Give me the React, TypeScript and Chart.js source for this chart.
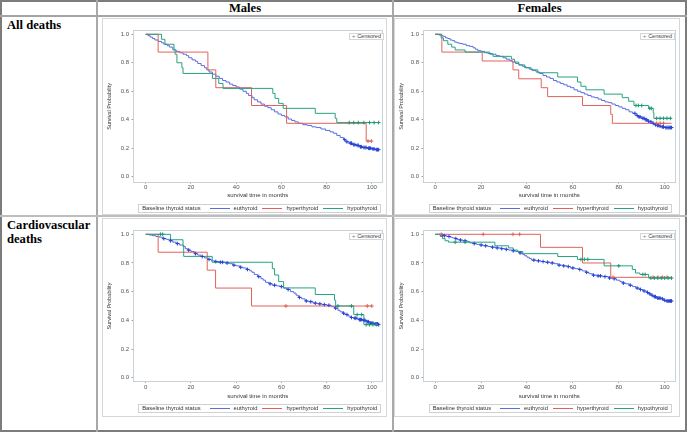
import React, { useEffect, useRef } from "react";
import { Chart, registerables } from "chart.js";

Chart.register(...registerables);

type P = [number, number];

const colHeaders = ["Males", "Females"];
const rowHeaders = ["All deaths", "Cardiovascular deaths"];
const groups = ["euthyroid", "hyperthyroid", "hypothyroid"];
const legendTitle = "Baseline thyroid status";
const censoredLabel = "Censored";
const xAxisTitle = "survival time in months";
const yAxisTitle = "Survival Probability";
const xTickValues = [0, 20, 40, 60, 80, 100];
const yTickValues = [0, 0.2, 0.4, 0.6, 0.8, 1.0];

// ---------- Males, all deaths ----------
const maleAllEu: P[] = [[0,1],[1,0.99],[2,0.98],[3,0.97],[4,0.96],[5.5,0.95],[7,0.94],[8,0.93],[9.5,0.92],[10.5,0.91],[12,0.89],[13.5,0.88],[15,0.87],[16.5,0.86],[18,0.85],[19,0.835],[20.5,0.82],[22,0.81],[23,0.795],[24.5,0.78],[26,0.765],[27,0.75],[28,0.735],[29.5,0.72],[31,0.705],[32.5,0.69],[34,0.675],[35.5,0.665],[37,0.65],[38.5,0.64],[40,0.63],[41.5,0.615],[43,0.6],[44.5,0.585],[45.5,0.57],[47,0.555],[48,0.54],[49.5,0.525],[51,0.51],[52.5,0.495],[54,0.485],[55.5,0.47],[57,0.455],[58.5,0.44],[60,0.43],[61.5,0.42],[63,0.405],[64.5,0.395],[66,0.385],[67.5,0.375],[69.5,0.365],[71.5,0.36],[73.5,0.35],[75.5,0.345],[77.5,0.335],[79.5,0.325],[81.5,0.315],[83,0.305],[84.5,0.29],[86,0.275],[87.5,0.26],[88.5,0.245],[90,0.235],[91.5,0.225],[93,0.22],[94.5,0.21],[96,0.205],[98,0.2],[100,0.195],[101.5,0.19],[103,0.19]];
const maleAllEuCens: P[] = [[88,0.26],[89,0.245],[90.5,0.235],[91,0.235],[92,0.225],[92.5,0.225],[93.5,0.22],[94,0.22],[95,0.21],[95.5,0.21],[96.5,0.205],[97,0.205],[97.5,0.205],[98.5,0.2],[99,0.2],[99.5,0.2],[100.5,0.195],[101,0.195],[102,0.19],[102.5,0.19],[103,0.19]];
const maleAllHyper: P[] = [[0,1],[5.5,0.875],[27.5,0.75],[31,0.625],[46.8,0.5],[62.3,0.375],[97.5,0.25],[99.8,0.25]];
const maleAllHyperCens: P[] = [[98.3,0.25],[99.8,0.25]];
const maleAllHypo: P[] = [[0,1],[7,0.965],[8.5,0.93],[12.5,0.895],[13,0.86],[13.8,0.8],[16,0.765],[16.5,0.725],[29.5,0.69],[32.3,0.655],[34.2,0.62],[56.2,0.585],[57.2,0.55],[58.8,0.515],[60.8,0.48],[75,0.445],[83.8,0.41],[84.5,0.38],[103,0.38]];
const maleAllHypoCens: P[] = [[90,0.38],[92,0.38],[94,0.38],[96.5,0.38],[99,0.38],[101,0.38],[103,0.38]];

// ---------- Females, all deaths ----------
const femAllEu: P[] = [[0,1],[1.5,0.995],[2.5,0.99],[3.5,0.985],[4.5,0.975],[5.5,0.97],[6.5,0.96],[7.5,0.955],[8.5,0.945],[9.5,0.94],[10.5,0.935],[12,0.93],[13.5,0.92],[15,0.915],[16.5,0.905],[17.5,0.895],[18.5,0.885],[20,0.88],[21.5,0.87],[23,0.865],[25,0.86],[26.5,0.85],[28,0.845],[29.5,0.835],[31,0.825],[32.5,0.815],[33.5,0.805],[35,0.795],[36.5,0.785],[38,0.775],[39.5,0.765],[41,0.755],[42.5,0.745],[44,0.735],[45.5,0.725],[47,0.71],[48.5,0.7],[50,0.69],[51.5,0.675],[53,0.665],[54.5,0.655],[56,0.645],[57.5,0.635],[59,0.625],[60.5,0.61],[62,0.6],[63.5,0.59],[65,0.58],[66.5,0.57],[68,0.56],[69.5,0.555],[71,0.545],[72.5,0.535],[74,0.525],[75.5,0.52],[77,0.51],[78.5,0.5],[80,0.49],[81.5,0.48],[83,0.47],[84.5,0.455],[86,0.445],[87.5,0.43],[88.5,0.42],[90,0.41],[91.5,0.4],[92.5,0.39],[93.5,0.385],[94.5,0.375],[95.5,0.365],[96.5,0.36],[97.5,0.355],[98.5,0.35],[100,0.345],[103,0.345]];
const femAllEuCens: P[] = [[87,0.445],[88,0.43],[88.8,0.42],[89.3,0.42],[90.5,0.41],[91,0.41],[91.8,0.4],[92.2,0.4],[93,0.39],[94,0.385],[95,0.375],[96,0.365],[96.8,0.36],[97.2,0.36],[98,0.355],[99,0.35],[99.5,0.35],[100.5,0.345],[101,0.345],[101.5,0.345],[102,0.345],[102.5,0.345],[103,0.345]];
const femAllHyper: P[] = [[0,1],[2.9,0.875],[20.5,0.8125],[33.9,0.75],[36.4,0.6875],[46.2,0.625],[49,0.5625],[64.2,0.5],[76.5,0.4375],[77.2,0.375],[103,0.375]];
const femAllHyperCens: P[] = [[96.5,0.375],[98,0.375],[99.5,0.375]];
const femAllHypo: P[] = [[0,1],[2.6,0.975],[3.6,0.955],[5.5,0.93],[7.2,0.91],[8.7,0.89],[13,0.875],[23.8,0.86],[25.2,0.845],[33.2,0.825],[34.6,0.805],[36.4,0.785],[39,0.765],[41.8,0.75],[44.7,0.73],[53.4,0.7],[62,0.665],[63.5,0.635],[65.7,0.61],[73.6,0.58],[81.5,0.555],[84.3,0.53],[86.6,0.5],[93,0.48],[95,0.45],[95.3,0.41],[103,0.41]];
const femAllHypoCens: P[] = [[87.5,0.5],[88.5,0.5],[90,0.5],[93.5,0.48],[94.2,0.48],[96.5,0.41],[98,0.41],[99.5,0.41],[101,0.41],[102.5,0.41]];

// ---------- Males, cardiovascular deaths ----------
const maleCvEu: P[] = [[0,1],[1.5,0.995],[3,0.99],[4.5,0.985],[6,0.98],[7.5,0.97],[9,0.965],[10.5,0.955],[12,0.945],[13.5,0.935],[15,0.925],[16.5,0.915],[17.5,0.9],[18.5,0.89],[20,0.88],[21.5,0.865],[23,0.855],[24.5,0.845],[26,0.835],[27.5,0.825],[29,0.815],[30.5,0.81],[32.5,0.805],[35,0.8],[37,0.795],[38.5,0.785],[40,0.78],[41.5,0.77],[43,0.765],[44.5,0.755],[46,0.745],[47,0.735],[48,0.72],[49.5,0.705],[51,0.69],[52,0.68],[53,0.665],[54.5,0.655],[56,0.645],[58,0.64],[59.5,0.635],[61,0.625],[62.5,0.615],[64,0.6],[65.5,0.59],[66.5,0.575],[67.5,0.56],[69,0.55],[70.5,0.535],[72,0.53],[74,0.52],[76,0.515],[78,0.51],[80,0.505],[82,0.495],[83.5,0.485],[85,0.47],[86,0.46],[87,0.45],[88,0.44],[89.5,0.43],[90.5,0.42],[92,0.415],[94,0.405],[96,0.4],[97.5,0.39],[99,0.38],[101,0.375],[103,0.37]];
const maleCvEuCens: P[] = [[8,0.97],[11,0.955],[14,0.935],[19,0.89],[22,0.865],[25,0.845],[28,0.825],[31,0.81],[33,0.805],[34,0.805],[36,0.8],[39,0.785],[42,0.77],[45,0.755],[50,0.705],[55,0.655],[57,0.645],[60,0.635],[63,0.615],[68,0.56],[71,0.535],[73,0.53],[75,0.52],[77,0.515],[79,0.51],[81,0.505],[84,0.485],[87.5,0.45],[89,0.44],[91,0.42],[92.5,0.415],[93,0.415],[94.5,0.405],[95,0.405],[95.5,0.405],[96.5,0.4],[97,0.4],[98,0.39],[98.5,0.39],[99.5,0.38],[100,0.38],[100.5,0.38],[101.5,0.375],[102,0.375],[102.5,0.375],[103,0.37]];
const maleCvHyper: P[] = [[0,1],[5.5,0.875],[27.2,0.75],[30.9,0.625],[46.8,0.5],[100,0.5]];
const maleCvHyperCens: P[] = [[62,0.5],[98,0.5],[100,0.5]];
const maleCvHypo: P[] = [[0,1],[11,0.962],[16.5,0.923],[16.8,0.846],[29.4,0.805],[56,0.76],[57,0.716],[58.8,0.67],[61,0.626],[75,0.58],[83.5,0.54],[84,0.5],[92,0.44],[96.5,0.37],[103,0.37]];
const maleCvHypoCens: P[] = [[6.5,1],[7.5,1],[85,0.5],[91,0.5],[93.5,0.44],[95.5,0.44],[97.5,0.37],[99,0.37],[100.5,0.37],[102,0.37]];

// ---------- Females, cardiovascular deaths ----------
const femCvEu: P[] = [[0,1],[2,0.995],[3.5,0.99],[5,0.985],[6.5,0.98],[7.5,0.975],[8.5,0.97],[9.5,0.965],[10.5,0.96],[12,0.955],[14,0.95],[15,0.94],[16.5,0.935],[18,0.93],[19.5,0.925],[21,0.92],[23,0.915],[24.5,0.91],[26.5,0.905],[28.5,0.9],[30.5,0.895],[32,0.89],[33.5,0.885],[35,0.88],[36.5,0.87],[38,0.86],[39,0.85],[40,0.84],[41,0.83],[42,0.82],[44,0.815],[46,0.81],[48,0.805],[50,0.8],[52,0.795],[53.5,0.785],[55.5,0.78],[57.5,0.775],[59,0.765],[61,0.76],[62.5,0.755],[64,0.745],[65.5,0.735],[67,0.725],[68.5,0.715],[70.5,0.71],[73,0.705],[75.5,0.695],[77.5,0.69],[79,0.68],[80.5,0.67],[81.5,0.66],[83,0.655],[84.5,0.645],[86,0.635],[87.5,0.625],[89,0.615],[90.5,0.605],[92,0.595],[93,0.585],[94,0.575],[95,0.565],[96.5,0.555],[98.5,0.55],[99.5,0.54],[100.5,0.535],[103,0.535]];
const femCvEuCens: P[] = [[3,0.995],[4,0.99],[6,0.985],[9,0.97],[11,0.96],[13,0.955],[17,0.935],[20,0.925],[22,0.92],[25,0.91],[27,0.905],[29,0.9],[31,0.895],[34,0.885],[37,0.87],[43,0.82],[45,0.815],[47,0.81],[49,0.805],[51,0.8],[54,0.785],[56,0.78],[58,0.775],[60,0.765],[63,0.755],[66,0.735],[69,0.715],[71,0.71],[72,0.71],[74,0.705],[76,0.695],[78,0.69],[82,0.66],[85,0.645],[88,0.625],[89.5,0.615],[91,0.605],[92.5,0.595],[93.5,0.585],[94.5,0.575],[95.5,0.565],[96,0.565],[97,0.555],[97.5,0.555],[98,0.555],[99,0.55],[100,0.54],[101,0.535],[101.5,0.535],[102,0.535],[102.5,0.535],[103,0.535]];
const femCvHyper: P[] = [[0,1],[45.9,0.909],[64.2,0.8],[76.5,0.7],[103,0.7]];
const femCvHyperCens: P[] = [[2.6,1],[20.9,1],[33.9,1],[36.8,1],[77.5,0.7],[95,0.7],[97,0.7],[99,0.7],[101,0.7]];
const femCvHypo: P[] = [[0,1],[2.2,0.985],[3.2,0.97],[4.3,0.955],[5.8,0.945],[26,0.92],[32,0.905],[34,0.89],[36,0.88],[38.2,0.865],[53.4,0.845],[62,0.825],[73.6,0.78],[85.9,0.755],[87.3,0.73],[89.2,0.72],[93,0.695],[103,0.695]];
const femCvHypoCens: P[] = [[8.7,0.945],[13,0.945],[63.5,0.825],[65,0.825],[66.5,0.825],[80,0.78],[90.5,0.72],[91.5,0.72],[94,0.695],[95.5,0.695],[97,0.695],[98.5,0.695],[100,0.695],[101.5,0.695],[103,0.695]];

const SANS = "'Liberation Sans', Arial, Helvetica, sans-serif";
const SERIF = "'Liberation Serif', 'Times New Roman', Times, serif";
const lineColors = ["#5a6ddc", "#e2625b", "#25a383"];
const censColors = ["#2743d4", "#e2625b", "#1c9878"];

type Series = { curves: P[][]; cens: P[][] };
type PanelCfg = {
  fx: number; fy: number; fw: number; fh: number;
  pl: number; pt: number; pr: number; pb: number;
  yMin: number; yMax: number; xMin: number; xMax: number; xH: number; legTop: number;
  series: Series;
};

const panels: PanelCfg[] = [
  { fx: 102, fy: 18, fw: 285, fh: 197, pl: 133.5, pt: 31, pr: 386, pb: 181.7, yMin: -0.035, yMax: 1.023, xMin: -5.4, xMax: 104.5, xH: 17.6, legTop: 204,
    series: { curves: [maleAllEu, maleAllHyper, maleAllHypo], cens: [maleAllEuCens, maleAllHyperCens, maleAllHypoCens] } },
  { fx: 394, fy: 18, fw: 286, fh: 197, pl: 423.5, pt: 31, pr: 677, pb: 181.7, yMin: -0.035, yMax: 1.023, xMin: -5.1, xMax: 104.5, xH: 17.6, legTop: 204,
    series: { curves: [femAllEu, femAllHyper, femAllHypo], cens: [femAllEuCens, femAllHyperCens, femAllHypoCens] } },
  { fx: 102, fy: 218, fw: 285, fh: 199, pl: 133.5, pt: 231, pr: 386, pb: 381, yMin: -0.023, yMax: 1.023, xMin: -5.4, xMax: 104.5, xH: 19.3, legTop: 404,
    series: { curves: [maleCvEu, maleCvHyper, maleCvHypo], cens: [maleCvEuCens, maleCvHyperCens, maleCvHypoCens] } },
  { fx: 394, fy: 218, fw: 286, fh: 199, pl: 423.5, pt: 231, pr: 677, pb: 381, yMin: -0.023, yMax: 1.023, xMin: -5.1, xMax: 104.5, xH: 19.3, legTop: 404,
    series: { curves: [femCvEu, femCvHyper, femCvHypo], cens: [femCvEuCens, femCvHyperCens, femCvHypoCens] } },
];

const wallPlugin = {
  id: "wall",
  beforeDatasetsDraw(chart: any) {
    const { ctx, chartArea: a } = chart;
    ctx.save();
    ctx.strokeStyle = "#c8d2d9";
    ctx.lineWidth = 1;
    const l = Math.round(a.left) - 0.5;
    const t = Math.round(a.top) - 0.5;
    ctx.strokeRect(l, t, Math.round(a.right) - Math.round(a.left) + 1, Math.round(a.bottom) - Math.round(a.top) + 1);
    ctx.restore();
  },
};

function KMCanvas({ cfg }: { cfg: PanelCfg }) {
  const ref = useRef<HTMLCanvasElement | null>(null);
  useEffect(() => {
    const c = ref.current;
    if (!c) return;
    const yW = cfg.pl - cfg.fx;
    const pad = {
      left: 0,
      top: cfg.pt - cfg.fy,
      right: cfg.fx + cfg.fw - cfg.pr,
      bottom: cfg.fy + cfg.fh - cfg.pb - cfg.xH,
    };
    const pts = (a: P[]) => a.map(([x, y]) => ({ x, y }));
    const datasets: any[] = [];
    cfg.series.curves.forEach((d, i) => {
      datasets.push({
        type: "line", label: groups[i], data: pts(d), borderColor: lineColors[i], backgroundColor: lineColors[i],
        borderWidth: 1, pointRadius: 0, stepped: "before", tension: 0, fill: false, order: 10 - i,
      });
    });
    cfg.series.cens.forEach((d, i) => {
      datasets.push({
        type: "scatter", label: groups[i] + " censored", data: pts(d), borderColor: censColors[i], backgroundColor: censColors[i],
        pointStyle: "cross", pointRadius: 1.9, borderWidth: 1, showLine: false, order: 4 - i,
      });
    });
    const tickFont = { family: SANS, size: 6 };
    const chart = new Chart(c, {
      type: "line",
      data: { datasets },
      options: {
        animation: false,
        responsive: false,
        devicePixelRatio: 1,
        events: [],
        layout: { padding: pad },
        plugins: { legend: { display: false }, tooltip: { enabled: false }, title: { display: false } },
        scales: {
          x: {
            type: "linear", min: cfg.xMin, max: cfg.xMax,
            afterBuildTicks: (s: any) => { s.ticks = xTickValues.map((v) => ({ value: v })); },
            afterFit: (s: any) => { s.height = cfg.xH; },
            grid: { display: true, drawOnChartArea: false, drawTicks: true, tickLength: 2, color: "#9aa3a8" },
            border: { display: false },
            ticks: { autoSkip: false, maxRotation: 0, padding: 0.5, color: "#555", font: tickFont, callback: (v: any) => String(v) },
            title: { display: true, text: xAxisTitle, color: "#333", font: { family: SANS, size: 6 }, padding: { top: 0, bottom: 0 } },
          },
          y: {
            type: "linear", min: cfg.yMin, max: cfg.yMax,
            afterBuildTicks: (s: any) => { s.ticks = yTickValues.map((v) => ({ value: v })); },
            afterFit: (s: any) => { s.width = yW; },
            grid: { display: true, drawOnChartArea: false, drawTicks: true, tickLength: 2, color: "#9aa3a8" },
            border: { display: false },
            ticks: { autoSkip: false, padding: 2.5, color: "#555", font: tickFont, callback: (v: any) => Number(v).toFixed(1) },
            title: { display: true, text: yAxisTitle, color: "#333", font: { family: SANS, size: 5.5 }, padding: { top: 4.5, bottom: 0 } },
          },
        },
      } as any,
      plugins: [wallPlugin],
    });
    return () => chart.destroy();
  }, [cfg]);
  return (
    <canvas
      ref={ref}
      width={cfg.fw}
      height={cfg.fh}
      style={{ position: "absolute", left: cfg.fx, top: cfg.fy, width: cfg.fw, height: cfg.fh }}
    />
  );
}

function Panel({ cfg }: { cfg: PanelCfg }) {
  return (
    <>
      <div style={{ position: "absolute", left: cfg.fx, top: cfg.fy, width: cfg.fw, height: cfg.fh, border: "1px solid #d4d8da", boxSizing: "border-box" }} />
      <KMCanvas cfg={cfg} />
      <div
        style={{
          position: "absolute", right: 688 - (cfg.pr - 2), top: cfg.pt + 2, height: 7, boxSizing: "border-box",
          border: "1px solid #d6d6d6", background: "#fff", padding: "0 2px", display: "flex", alignItems: "center",
          fontFamily: SANS, fontSize: 5.5, color: "#444", whiteSpace: "nowrap", lineHeight: "5px",
        }}
      >
        <span style={{ color: "#6a7080", marginRight: 2 }}>+</span>
        {censoredLabel}
      </div>
      <div style={{ position: "absolute", left: cfg.pl, width: cfg.pr - cfg.pl, top: cfg.legTop, display: "flex", justifyContent: "center" }}>
        <div
          style={{
            height: 9, boxSizing: "border-box", border: "1px solid #d0d0d0", padding: "0 3px", display: "flex", alignItems: "center",
            fontFamily: SANS, fontSize: 5.8, color: "#333", whiteSpace: "nowrap", lineHeight: "7px",
          }}
        >
          <span style={{ marginRight: 9 }}>{legendTitle}</span>
          {groups.map((g, i) => (
            <React.Fragment key={g}>
              <span style={{ display: "inline-block", width: 20, height: 1, background: lineColors[i], marginRight: 4 }} />
              <span style={{ marginRight: i < groups.length - 1 ? 5 : 0 }}>{g}</span>
            </React.Fragment>
          ))}
        </div>
      </div>
    </>
  );
}

export default function App() {
  const headStyle: React.CSSProperties = {
    position: "absolute", top: 1, height: 15, lineHeight: "15px", textAlign: "center",
    fontFamily: SERIF, fontWeight: "bold", fontSize: 12.6, color: "#000",
  };
  const rowStyle: React.CSSProperties = {
    position: "absolute", left: 7, width: 88, fontFamily: SERIF, fontWeight: "bold", fontSize: 12.6,
    lineHeight: "14px", color: "#000",
  };
  return (
    <div style={{ position: "absolute", left: 0, top: 0, width: 688, height: 433, background: "#fff", overflow: "hidden" }}>
      <div style={{ position: "absolute", left: 0, top: 0, width: 687, height: 432, border: "2px solid #7c7c7c", boxSizing: "border-box" }} />
      <div style={{ position: "absolute", left: 96, top: 0, width: 2, height: 432, background: "#a9a9a9" }} />
      <div style={{ position: "absolute", left: 392, top: 0, width: 2, height: 432, background: "#a9a9a9" }} />
      <div style={{ position: "absolute", left: 0, top: 15, width: 687, height: 2, background: "#a4a4a4" }} />
      <div style={{ position: "absolute", left: 0, top: 215, width: 687, height: 2, background: "#bdbdbd" }} />

      <div style={{ ...headStyle, left: 98, width: 294 }}>{colHeaders[0]}</div>
      <div style={{ ...headStyle, left: 394, width: 291 }}>{colHeaders[1]}</div>
      <div style={{ ...rowStyle, top: 18 }}>{rowHeaders[0]}</div>
      <div style={{ ...rowStyle, top: 218 }}>{rowHeaders[1]}</div>

      {panels.map((p, i) => (
        <Panel key={i} cfg={p} />
      ))}
    </div>
  );
}
